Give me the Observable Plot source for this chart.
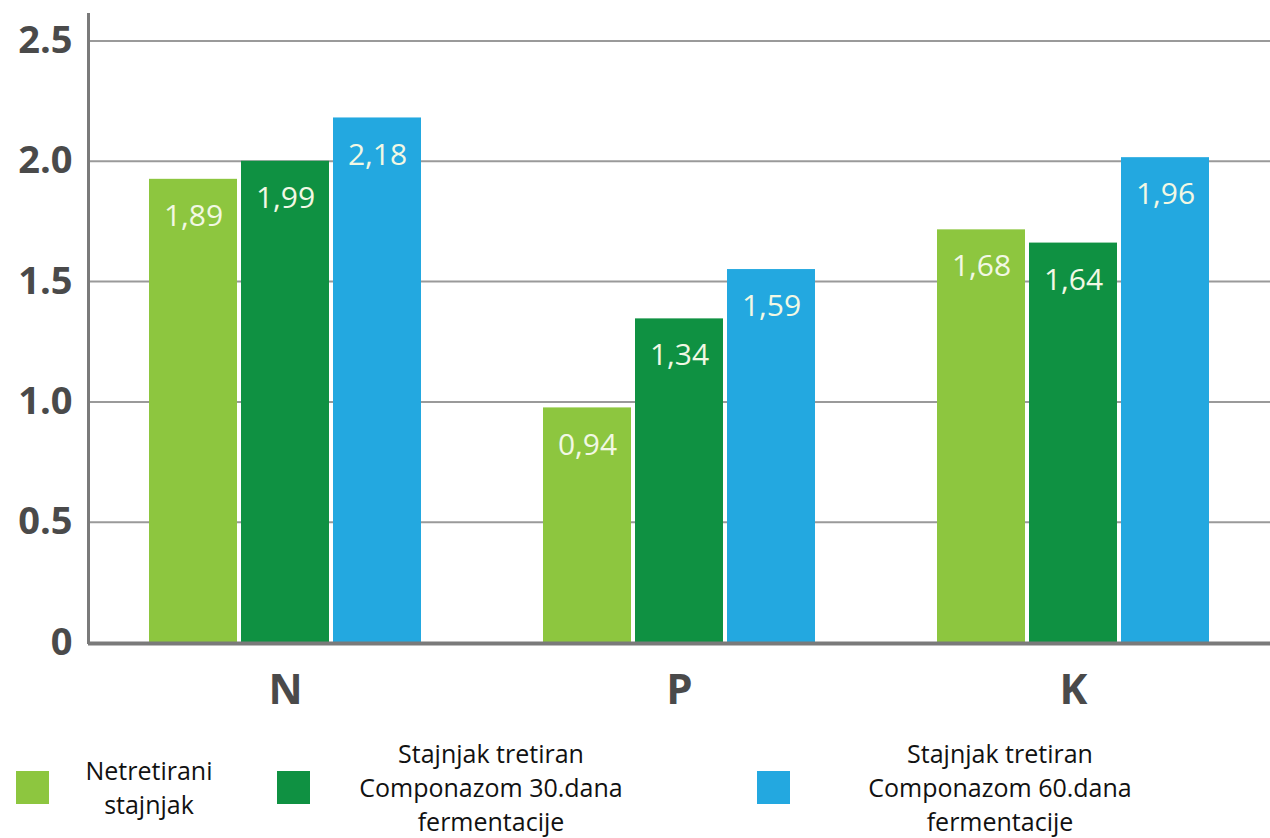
<!DOCTYPE html>
<html>
<head>
<meta charset="utf-8">
<script src="https://cdn.jsdelivr.net/npm/d3@7"></script>
<script src="https://cdn.jsdelivr.net/npm/@observablehq/plot@0.6"></script>
<style>
  html, body { margin: 0; padding: 0; background: #fff; }
  #wrap { position: relative; width: 1270px; height: 838px; overflow: hidden; font-family: "Open Sans", sans-serif; }
  #chart svg { display: block; }
  .sw { position: absolute; width: 33px; height: 33px; }
  .lt { position: absolute; text-align: center; font-size: 25px; line-height: 34px; color: #111; white-space: nowrap; }
</style>
</head>
<body>
<div id="wrap">
  <div id="chart"></div>
  <div id="legend"></div>
</div>
<script>
const categories = ["N", "P", "K"];
const seriesNames = [
  "Netretirani stajnjak",
  "Stajnjak tretiran Componazom 30.dana fermentacije",
  "Stajnjak tretiran Componazom 60.dana fermentacije"
];
const legendLines = [
  ["Netretirani", "stajnjak"],
  ["Stajnjak tretiran", "Componazom 30.dana", "fermentacije"],
  ["Stajnjak tretiran", "Componazom 60.dana", "fermentacije"]
];
// bar heights as drawn in the picture
const valuesNetretirani = [1.925, 0.975, 1.715];
const values30dana = [2.0, 1.345, 1.66];
const values60dana = [2.18, 1.55, 2.015];
// value labels printed on the bars
const labelsNetretirani = ["1,89", "0,94", "1,68"];
const labels30dana = ["1,99", "1,34", "1,64"];
const labels60dana = ["2,18", "1,59", "1,96"];
const yTicks = [0, 0.5, 1.0, 1.5, 2.0, 2.5];
const colors = ["#8dc63f", "#0f9142", "#23a8e0"];

const seriesValues = [valuesNetretirani, values30dana, values60dana];
const seriesLabels = [labelsNetretirani, labels30dana, labels60dana];
const data = [];
categories.forEach((c, i) => {
  seriesNames.forEach((s, j) => {
    data.push({category: c, series: s, value: seriesValues[j][i], label: seriesLabels[j][i]});
  });
});

const chart = Plot.plot({
  width: 1270,
  height: 730,
  marginLeft: 88,
  marginRight: 0,
  marginTop: 14,
  marginBottom: 88,
  style: {fontFamily: "'Open Sans', sans-serif", background: "#fff"},
  fx: {domain: categories, padding: 0, label: null},
  x: {domain: seriesNames, paddingInner: 0.043, paddingOuter: 0.64, axis: null},
  y: {domain: [0, 2.61], axis: null},
  color: {domain: seriesNames, range: colors},
  marks: [
    Plot.ruleY(yTicks.filter(d => d > 0), {stroke: "#9a9a9a", strokeWidth: 2}),
    Plot.barY(data, {fx: "category", x: "series", y: "value", fill: "series"}),
    Plot.text(data, {fx: "category", x: "series", y: "value", text: "label", dy: 37, fill: "#f2f8e4", fontSize: 30}),
    Plot.ruleY([0], {stroke: "#7a7a7a", strokeWidth: 4, dy: 1}),
    Plot.frame({anchor: "left", stroke: "#7a7a7a", strokeWidth: 3, facetAnchor: "left"}),
    Plot.axisY({ticks: yTicks, tickSize: 0, tickPadding: 16, tickFormat: d => d === 0 ? "0" : d.toFixed(1), fontSize: 38, fontWeight: "bold", color: "#4a4a4a", label: null}),
    Plot.axisFx({anchor: "bottom", tickSize: 0, tickPadding: 32, fontSize: 42, fontWeight: "bold", color: "#4a4a4a", label: null})
  ]
});
document.getElementById("chart").appendChild(chart);

// legend (HTML, below the SVG)
const legend = document.getElementById("legend");
const swatchX = [16, 277, 757];
const textCenter = [149, 491, 1000];
legendLines.forEach((lines, i) => {
  const sw = document.createElement("div");
  sw.className = "sw";
  sw.style.left = swatchX[i] + "px";
  sw.style.top = "771px";
  sw.style.background = colors[i];
  legend.appendChild(sw);
  const t = document.createElement("div");
  t.className = "lt";
  t.style.width = "320px";
  t.style.left = (textCenter[i] - 160) + "px";
  t.style.top = (lines.length === 2 ? 753 : 736) + "px";
  t.innerHTML = lines.join("<br>");
  legend.appendChild(t);
});
</script>
</body>
</html>
